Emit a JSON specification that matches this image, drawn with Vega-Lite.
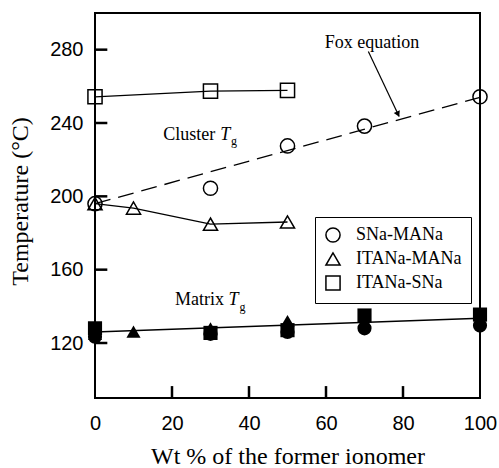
{
  "$schema": "https://vega.github.io/schema/vega-lite/v6.json",
  "width": 385,
  "height": 385,
  "autosize": {"type": "none"},
  "padding": {"left": 95, "top": 13, "right": 19, "bottom": 70},
  "background": "white",
  "config": {
    "view": {"stroke": "black", "strokeWidth": 2},
    "legend": {
      "labelFont": "Liberation Serif",
      "labelFontSize": 18,
      "labelColor": "black"
    }
  },
  "datasets": {
    "cluster": [
      {"wt": 0, "temp": 196, "series": "SNa-MANa"},
      {"wt": 30, "temp": 204.4, "series": "SNa-MANa"},
      {"wt": 50, "temp": 227.5, "series": "SNa-MANa"},
      {"wt": 70, "temp": 238.3, "series": "SNa-MANa"},
      {"wt": 100, "temp": 254.3, "series": "SNa-MANa"},
      {"wt": 0, "temp": 196, "series": "ITANa-MANa"},
      {"wt": 10, "temp": 193.6, "series": "ITANa-MANa"},
      {"wt": 30, "temp": 184.8, "series": "ITANa-MANa"},
      {"wt": 50, "temp": 186, "series": "ITANa-MANa"},
      {"wt": 0, "temp": 254.3, "series": "ITANa-SNa"},
      {"wt": 30, "temp": 257.4, "series": "ITANa-SNa"},
      {"wt": 50, "temp": 257.8, "series": "ITANa-SNa"}
    ],
    "matrix": [
      {"wt": 0, "temp": 123.4, "series": "SNa-MANa"},
      {"wt": 30, "temp": 125, "series": "SNa-MANa"},
      {"wt": 50, "temp": 126, "series": "SNa-MANa"},
      {"wt": 70, "temp": 128, "series": "SNa-MANa"},
      {"wt": 100, "temp": 129.5, "series": "SNa-MANa"},
      {"wt": 0, "temp": 125, "series": "ITANa-MANa"},
      {"wt": 10, "temp": 126.2, "series": "ITANa-MANa"},
      {"wt": 30, "temp": 128, "series": "ITANa-MANa"},
      {"wt": 50, "temp": 132, "series": "ITANa-MANa"},
      {"wt": 0, "temp": 128, "series": "ITANa-SNa"},
      {"wt": 30, "temp": 125.5, "series": "ITANa-SNa"},
      {"wt": 50, "temp": 127, "series": "ITANa-SNa"},
      {"wt": 70, "temp": 135, "series": "ITANa-SNa"},
      {"wt": 100, "temp": 135.5, "series": "ITANa-SNa"}
    ],
    "fox": [
      {"wt": 0, "temp": 196},
      {"wt": 100, "temp": 254}
    ],
    "matrixfit": [
      {"wt": 0, "temp": 126},
      {"wt": 100, "temp": 133.5}
    ],
    "arrow": [
      {"wt": 71.0, "temp": 279.0, "wt2": 79.0, "temp2": 243.5}
    ],
    "arrowhead": [
      {"wt": 78.7, "temp": 244.8}
    ],
    "labels": [
      {"wt": 59.7, "temp": 280.8, "label": "Fox equation"},
      {"wt": 17.7, "temp": 231, "label": "Cluster"},
      {"wt": 20.8, "temp": 140.8, "label": "Matrix"}
    ],
    "italT": [
      {"wt": 32.5, "temp": 231, "label": "T"},
      {"wt": 34.7, "temp": 140.8, "label": "T"}
    ],
    "subg": [
      {"wt": 35.3, "temp": 227.8, "label": "g"},
      {"wt": 37.5, "temp": 137.6, "label": "g"}
    ],
    "xticks": [{"wt": 20}, {"wt": 40}, {"wt": 60}, {"wt": 80}],
    "yticks": [{"temp": 120}, {"temp": 160}, {"temp": 200}, {"temp": 240}, {"temp": 280}]
  },
  "layer": [
    {
      "data": {"name": "fox"},
      "mark": {"type": "line", "color": "black", "strokeWidth": 1.3, "strokeDash": [16, 8]},
      "encoding": {
        "x": {
          "field": "wt",
          "type": "quantitative",
          "scale": {"domain": [0, 100], "nice": false, "zero": false},
          "axis": {
            "values": [0, 20, 40, 60, 80, 100],
            "title": "Wt % of the former ionomer",
            "grid": false,
            "domain": false,
            "ticks": false,
            "labelFlush": false,
            "labelFont": "Liberation Sans",
            "labelFontSize": 20,
            "labelColor": "#000000",
            "labelPadding": 15,
            "titleFont": "Liberation Serif",
            "titleFontSize": 24,
            "titleFontWeight": "normal",
            "titleColor": "#000000",
            "titleY": 65,
            "titleBaseline": "alphabetic"
          }
        },
        "y": {
          "field": "temp",
          "type": "quantitative",
          "scale": {"domain": [90, 300], "nice": false, "zero": false},
          "axis": {
            "values": [120, 160, 200, 240, 280],
            "title": "Temperature (°C)",
            "grid": false,
            "domain": false,
            "ticks": false,
            "labelFlush": false,
            "labelFont": "Liberation Sans",
            "labelFontSize": 20,
            "labelColor": "#000000",
            "labelPadding": 12,
            "titleFont": "Liberation Serif",
            "titleFontSize": 24,
            "titleFontWeight": "normal",
            "titleColor": "#000000",
            "titleX": -75,
            "titleY": 188,
            "titleAngle": -90,
            "titleAlign": "center",
            "titleBaseline": "middle"
          }
        }
      }
    },
    {
      "data": {"name": "xticks"},
      "mark": {"type": "rule", "color": "#000000", "strokeWidth": 2.5, "opacity": 1},
      "encoding": {
        "x": {"field": "wt", "type": "quantitative"},
        "y": {"datum": 90},
        "y2": {"datum": 96.5}
      }
    },
    {
      "data": {"name": "yticks"},
      "mark": {"type": "rule", "color": "#000000", "strokeWidth": 2.5, "opacity": 1},
      "encoding": {
        "y": {"field": "temp", "type": "quantitative"},
        "x": {"datum": 0},
        "x2": {"datum": 3.2}
      }
    },
    {
      "data": {"name": "matrixfit"},
      "mark": {"type": "line", "color": "black", "strokeWidth": 1.3},
      "encoding": {"x": {"field": "wt", "type": "quantitative"}, "y": {"field": "temp", "type": "quantitative"}}
    },
    {
      "data": {"name": "cluster"},
      "transform": [{"filter": "datum.series !== 'SNa-MANa'"}],
      "mark": {"type": "line", "color": "black", "strokeWidth": 1.3},
      "encoding": {"x": {"field": "wt", "type": "quantitative"}, "y": {"field": "temp", "type": "quantitative"}, "detail": {"field": "series"}}
    },
    {
      "data": {"name": "cluster"},
      "mark": {"type": "point", "filled": false, "stroke": "black", "strokeWidth": 1.5, "size": 200, "opacity": 1},
      "encoding": {
        "x": {"field": "wt", "type": "quantitative"},
        "y": {"field": "temp", "type": "quantitative"},
        "shape": {
          "field": "series",
          "type": "nominal",
          "scale": {"domain": ["SNa-MANa", "ITANa-MANa", "ITANa-SNa"], "range": ["circle", "triangle-up", "square"]},
          "legend": {
            "title": null,
            "orient": "none",
            "legendX": 220,
            "legendY": 204,
            "strokeColor": "black",
            "padding": 9,
            "rowPadding": 3,
            "labelOffset": 14,
            "symbolSize": 200,
            "symbolStrokeWidth": 1.5,
            "symbolStrokeColor": "black",
            "symbolFillColor": "transparent",
            "encode": {"legend": {"update": {"strokeWidth": {"value": 1.5}}}}
          }
        }
      }
    },
    {
      "data": {"name": "matrix"},
      "mark": {"type": "point", "filled": true, "fill": "black", "size": 200, "opacity": 1},
      "encoding": {
        "x": {"field": "wt", "type": "quantitative"},
        "y": {"field": "temp", "type": "quantitative"},
        "shape": {"field": "series", "type": "nominal", "legend": null}
      }
    },
    {
      "data": {"name": "arrow"},
      "mark": {"type": "rule", "color": "black", "strokeWidth": 1.2},
      "encoding": {
        "x": {"field": "wt", "type": "quantitative"},
        "y": {"field": "temp", "type": "quantitative"},
        "x2": {"field": "wt2"},
        "y2": {"field": "temp2"}
      }
    },
    {
      "data": {"name": "arrowhead"},
      "mark": {"type": "point", "shape": "triangle-up", "filled": true, "fill": "black", "size": 45, "angle": 155, "opacity": 1},
      "encoding": {"x": {"field": "wt", "type": "quantitative"}, "y": {"field": "temp", "type": "quantitative"}}
    },
    {
      "data": {"name": "labels"},
      "mark": {"type": "text", "font": "Liberation Serif", "fontSize": 18, "align": "left", "baseline": "alphabetic", "color": "black"},
      "encoding": {"x": {"field": "wt", "type": "quantitative"}, "y": {"field": "temp", "type": "quantitative"}, "text": {"field": "label"}}
    },
    {
      "data": {"name": "italT"},
      "mark": {"type": "text", "font": "Liberation Serif", "fontSize": 18, "fontStyle": "italic", "align": "left", "baseline": "alphabetic", "color": "black"},
      "encoding": {"x": {"field": "wt", "type": "quantitative"}, "y": {"field": "temp", "type": "quantitative"}, "text": {"field": "label"}}
    },
    {
      "data": {"name": "subg"},
      "mark": {"type": "text", "font": "Liberation Serif", "fontSize": 12, "align": "left", "baseline": "alphabetic", "color": "black"},
      "encoding": {"x": {"field": "wt", "type": "quantitative"}, "y": {"field": "temp", "type": "quantitative"}, "text": {"field": "label"}}
    }
  ]
}
